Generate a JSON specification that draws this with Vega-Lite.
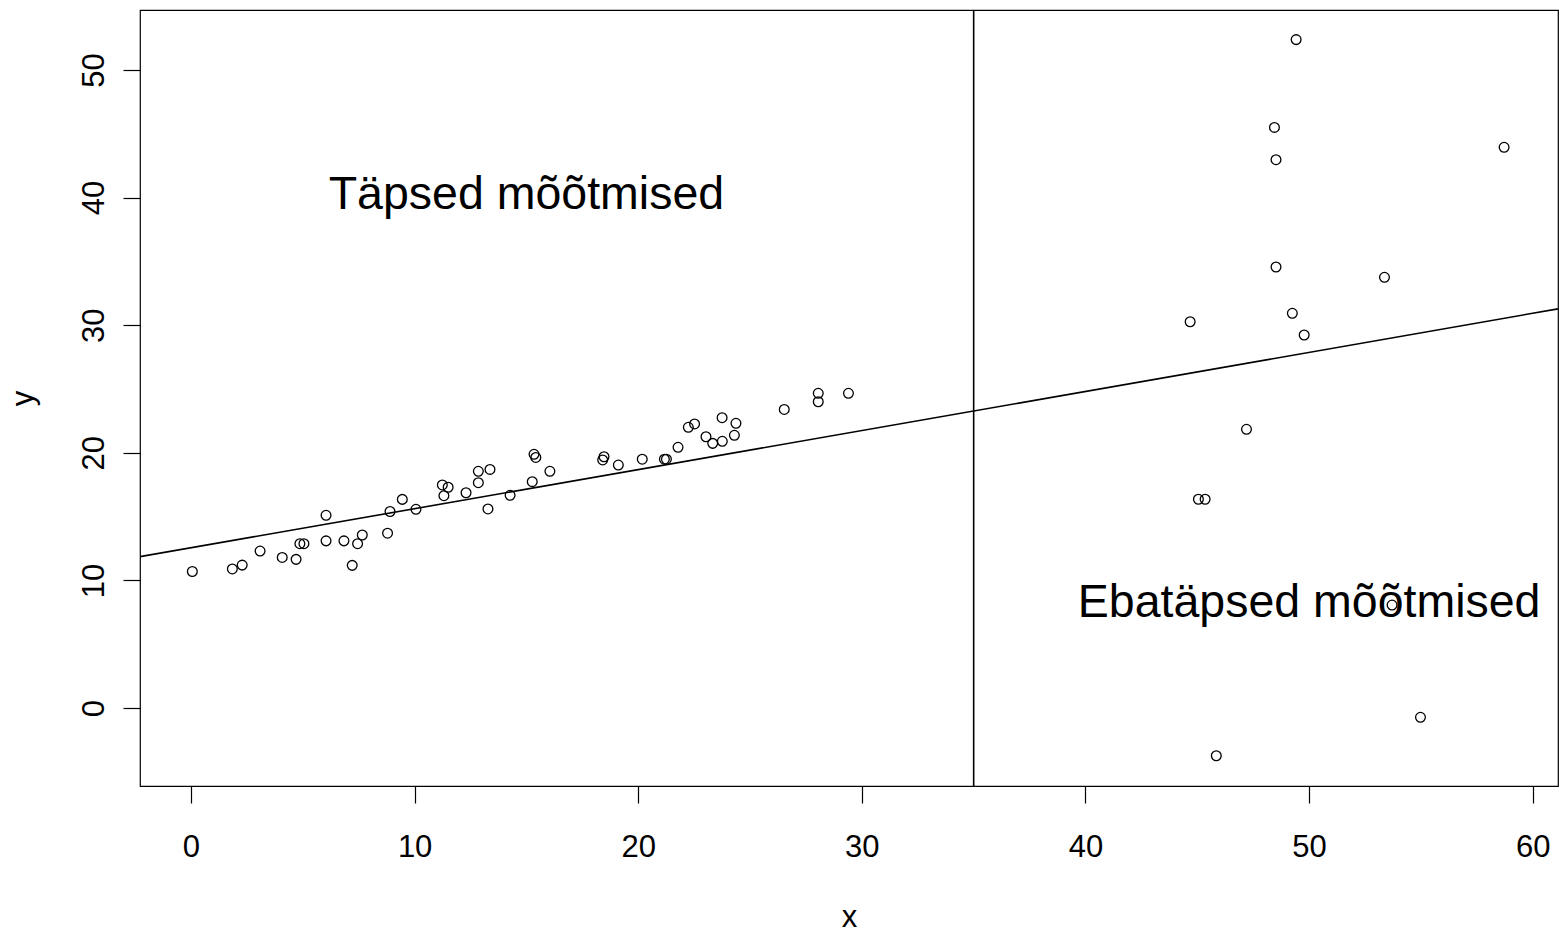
{
  "$schema": "https://vega.github.io/schema/vega-lite/v6.json",
  "width": 1418,
  "height": 776,
  "autosize": {"type": "none"},
  "padding": {"left": 140, "top": 10, "right": 3, "bottom": 150},
  "background": "white",
  "config": {
    "font": "Liberation Sans",
    "view": {"stroke": "black", "strokeWidth": 1.2}
  },
  "datasets": {
    "points": [
      {"x": 0.06, "y": 10.7}, {"x": 1.85, "y": 10.9}, {"x": 2.29, "y": 11.2}, {"x": 3.09, "y": 12.3},
      {"x": 4.08, "y": 11.8}, {"x": 4.70, "y": 11.65}, {"x": 4.87, "y": 12.88}, {"x": 5.05, "y": 12.88},
      {"x": 6.04, "y": 15.1}, {"x": 6.04, "y": 13.1}, {"x": 6.84, "y": 13.1}, {"x": 7.21, "y": 11.18},
      {"x": 7.45, "y": 12.88}, {"x": 7.66, "y": 13.56}, {"x": 8.79, "y": 13.7}, {"x": 8.90, "y": 15.4},
      {"x": 9.45, "y": 16.35}, {"x": 10.06, "y": 15.57}, {"x": 11.24, "y": 17.48}, {"x": 11.50, "y": 17.30},
      {"x": 11.31, "y": 16.64}, {"x": 12.30, "y": 16.87}, {"x": 12.85, "y": 18.55}, {"x": 12.85, "y": 17.66},
      {"x": 13.37, "y": 18.70}, {"x": 13.28, "y": 15.60}, {"x": 14.27, "y": 16.67}, {"x": 15.26, "y": 17.74},
      {"x": 15.34, "y": 19.88}, {"x": 15.42, "y": 19.64}, {"x": 16.05, "y": 18.55}, {"x": 18.41, "y": 19.44},
      {"x": 18.47, "y": 19.69}, {"x": 19.11, "y": 19.04}, {"x": 20.18, "y": 19.50}, {"x": 21.17, "y": 19.50},
      {"x": 21.26, "y": 19.50}, {"x": 21.78, "y": 20.43}, {"x": 22.24, "y": 22.00}, {"x": 22.52, "y": 22.26},
      {"x": 23.03, "y": 21.26}, {"x": 23.33, "y": 20.74}, {"x": 23.76, "y": 20.90}, {"x": 23.75, "y": 22.75},
      {"x": 24.30, "y": 21.37}, {"x": 24.37, "y": 22.31}, {"x": 26.53, "y": 23.40}, {"x": 28.05, "y": 24.66},
      {"x": 28.05, "y": 24.00}, {"x": 29.40, "y": 24.66},
      {"x": 49.42, "y": 52.38}, {"x": 48.45, "y": 45.50}, {"x": 48.52, "y": 42.97}, {"x": 58.72, "y": 43.94},
      {"x": 48.52, "y": 34.56}, {"x": 53.37, "y": 33.75}, {"x": 44.68, "y": 30.27}, {"x": 49.25, "y": 30.93},
      {"x": 49.78, "y": 29.23}, {"x": 47.20, "y": 21.84}, {"x": 45.05, "y": 16.36}, {"x": 45.35, "y": 16.36},
      {"x": 53.71, "y": 8.07}, {"x": 54.98, "y": -0.73}, {"x": 45.85, "y": -3.74}
    ],
    "fit": [
      {"x": -2.28, "y": 11.86},
      {"x": 61.13, "y": 31.28}
    ],
    "labels": [
      {"x": 15, "y": 40, "label": "Täpsed mõõtmised"},
      {"x": 50, "y": 8, "label": "Ebatäpsed mõõtmised"}
    ]
  },
  "encoding": {
    "x": {
      "field": "x",
      "type": "quantitative",
      "scale": {"domain": [-2.28, 61.13], "nice": false, "zero": false},
      "axis": {
        "values": [0, 10, 20, 30, 40, 50, 60],
        "grid": false,
        "domain": false,
        "tickColor": "black",
        "tickSize": 17,
        "tickWidth": 1.2,
        "labelFontSize": 31,
        "labelColor": "black",
        "labelPadding": 29,
        "labelFlush": false,
        "labelOverlap": false,
        "title": "x",
        "titleFontSize": 31,
        "titleFontWeight": "normal",
        "titleColor": "black",
        "titleBaseline": "alphabetic",
        "titleX": 709,
        "titleY": 140
      }
    },
    "y": {
      "field": "y",
      "type": "quantitative",
      "scale": {"domain": [-6.11, 54.7], "nice": false, "zero": false},
      "axis": {
        "values": [0, 10, 20, 30, 40, 50],
        "grid": false,
        "domain": false,
        "tickColor": "black",
        "tickSize": 17,
        "tickWidth": 1.2,
        "labelFontSize": 31,
        "labelColor": "black",
        "labelAngle": -90,
        "labelAlign": "center",
        "labelBaseline": "alphabetic",
        "labelPadding": 20,
        "labelFlush": false,
        "labelOverlap": false,
        "title": "y",
        "titleFontSize": 31,
        "titleFontWeight": "normal",
        "titleColor": "black",
        "titleAngle": -90,
        "titleAlign": "center",
        "titleBaseline": "alphabetic",
        "titleX": -108,
        "titleY": 388
      }
    }
  },
  "layer": [
    {
      "data": {"name": "points"},
      "mark": {"type": "point", "shape": "circle", "filled": false, "stroke": "black", "strokeWidth": 1.3, "size": 95, "opacity": 1}
    },
    {
      "data": {"name": "fit"},
      "mark": {"type": "line", "color": "black", "strokeWidth": 1.6, "clip": true}
    },
    {
      "data": {"values": [{"cut": 35}]},
      "mark": {"type": "rule", "color": "black", "strokeWidth": 1.6},
      "encoding": {"x": {"field": "cut", "type": "quantitative"}, "y": null}
    },
    {
      "data": {"name": "labels"},
      "mark": {"type": "text", "fontSize": 46.5, "align": "center", "baseline": "middle", "dy": -3, "color": "black"},
      "encoding": {"text": {"field": "label"}}
    }
  ]
}
